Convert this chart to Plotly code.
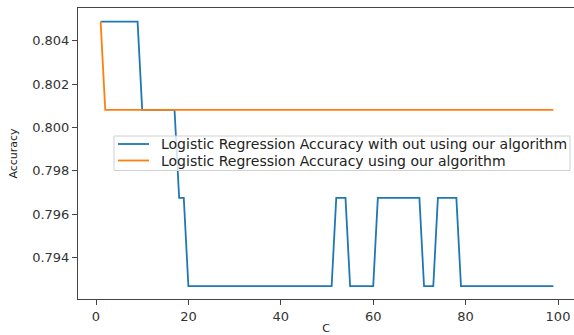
import plotly.graph_objects as go

C = list(range(1, 100))

acc_without = [
    0.80488, 0.80488, 0.80488, 0.80488, 0.80488, 0.80488, 0.80488, 0.80488, 0.80488, 0.80081,
    0.80081, 0.80081, 0.80081, 0.80081, 0.80081, 0.80081, 0.80081, 0.79675, 0.79675, 0.79268,
    0.79268, 0.79268, 0.79268, 0.79268, 0.79268, 0.79268, 0.79268, 0.79268, 0.79268, 0.79268,
    0.79268, 0.79268, 0.79268, 0.79268, 0.79268, 0.79268, 0.79268, 0.79268, 0.79268, 0.79268,
    0.79268, 0.79268, 0.79268, 0.79268, 0.79268, 0.79268, 0.79268, 0.79268, 0.79268, 0.79268,
    0.79268, 0.79675, 0.79675, 0.79675, 0.79268, 0.79268, 0.79268, 0.79268, 0.79268, 0.79268,
    0.79675, 0.79675, 0.79675, 0.79675, 0.79675, 0.79675, 0.79675, 0.79675, 0.79675, 0.79675,
    0.79268, 0.79268, 0.79268, 0.79675, 0.79675, 0.79675, 0.79675, 0.79675, 0.79268, 0.79268,
    0.79268, 0.79268, 0.79268, 0.79268, 0.79268, 0.79268, 0.79268, 0.79268, 0.79268, 0.79268,
    0.79268, 0.79268, 0.79268, 0.79268, 0.79268, 0.79268, 0.79268, 0.79268, 0.79268,
]

acc_with = [
    0.80488, 0.80081, 0.80081, 0.80081, 0.80081, 0.80081, 0.80081, 0.80081, 0.80081, 0.80081,
    0.80081, 0.80081, 0.80081, 0.80081, 0.80081, 0.80081, 0.80081, 0.80081, 0.80081, 0.80081,
    0.80081, 0.80081, 0.80081, 0.80081, 0.80081, 0.80081, 0.80081, 0.80081, 0.80081, 0.80081,
    0.80081, 0.80081, 0.80081, 0.80081, 0.80081, 0.80081, 0.80081, 0.80081, 0.80081, 0.80081,
    0.80081, 0.80081, 0.80081, 0.80081, 0.80081, 0.80081, 0.80081, 0.80081, 0.80081, 0.80081,
    0.80081, 0.80081, 0.80081, 0.80081, 0.80081, 0.80081, 0.80081, 0.80081, 0.80081, 0.80081,
    0.80081, 0.80081, 0.80081, 0.80081, 0.80081, 0.80081, 0.80081, 0.80081, 0.80081, 0.80081,
    0.80081, 0.80081, 0.80081, 0.80081, 0.80081, 0.80081, 0.80081, 0.80081, 0.80081, 0.80081,
    0.80081, 0.80081, 0.80081, 0.80081, 0.80081, 0.80081, 0.80081, 0.80081, 0.80081, 0.80081,
    0.80081, 0.80081, 0.80081, 0.80081, 0.80081, 0.80081, 0.80081, 0.80081, 0.80081,
]

series_names = [
    "Logistic Regression Accuracy with out using our algorithm",
    "Logistic Regression Accuracy using our algorithm",
]
series_colors = ["#1f77b4", "#ff7f0e"]
x_ticks = [0, 20, 40, 60, 80, 100]
y_ticks = [0.794, 0.796, 0.798, 0.800, 0.802, 0.804]

FONT = "DejaVu Sans"
AXC = "#444444"

# plot-area geometry (pixels) used to place the hand-drawn legend
L, R, T, B = 78, 574, 8, 299
def px(xp):
    return (xp - L) / (R - L)
def py(yp):
    return (B - yp) / (B - T)

fig = go.Figure()
fig.add_trace(go.Scatter(x=C, y=acc_without, mode="lines", name=series_names[0],
                         line=dict(color=series_colors[0], width=1.8), showlegend=False))
fig.add_trace(go.Scatter(x=C, y=acc_with, mode="lines", name=series_names[1],
                         line=dict(color=series_colors[1], width=1.8), showlegend=False))

shapes = [dict(type="rect", xref="paper", yref="paper",
               x0=px(114), x1=px(570), y0=py(170.5), y1=py(136),
               fillcolor="rgba(255,255,255,0.8)", line=dict(color="#d0d0d0", width=1),
               layer="above")]
annotations = []
row_y = [144, 160.5]
for name, col, ry in zip(series_names, series_colors, row_y):
    shapes.append(dict(type="line", xref="paper", yref="paper",
                       x0=px(118), x1=px(149), y0=py(ry), y1=py(ry),
                       line=dict(color=col, width=1.8), layer="above"))
    annotations.append(dict(xref="paper", yref="paper", x=px(159), y=py(ry),
                            xanchor="left", yanchor="middle", showarrow=False,
                            text=name, font=dict(family=FONT, size=14, color="#222222")))

fig.update_layout(
    width=574, height=335,
    margin=dict(l=L, r=574 - R, t=T, b=335 - B),
    paper_bgcolor="white", plot_bgcolor="white",
    font=dict(family=FONT, size=13, color="#333333"),
    showlegend=False,
    shapes=shapes, annotations=annotations,
)
fig.update_xaxes(
    range=[-3.896, 103.46], tickvals=x_ticks, ticktext=[str(v) for v in x_ticks],
    showgrid=False, zeroline=False,
    showline=True, linecolor=AXC, linewidth=1, mirror=True,
    ticks="outside", ticklen=5, tickcolor=AXC, tickwidth=1,
    tickfont=dict(family=FONT, size=13, color="#333333"),
    title=dict(text="C", font=dict(family=FONT, size=11, color="#222222"), standoff=4),
)
fig.update_yaxes(
    range=[0.79209, 0.80551], tickvals=y_ticks, ticktext=["%.3f" % v for v in y_ticks],
    showgrid=False, zeroline=False,
    showline=True, linecolor=AXC, linewidth=1, mirror=False,
    ticks="outside", ticklen=5, tickcolor=AXC, tickwidth=1,
    tickfont=dict(family=FONT, size=13, color="#333333"),
    title=dict(text="Accuracy", font=dict(family=FONT, size=11, color="#222222"), standoff=12),
)

fig.write_html("out.html")
